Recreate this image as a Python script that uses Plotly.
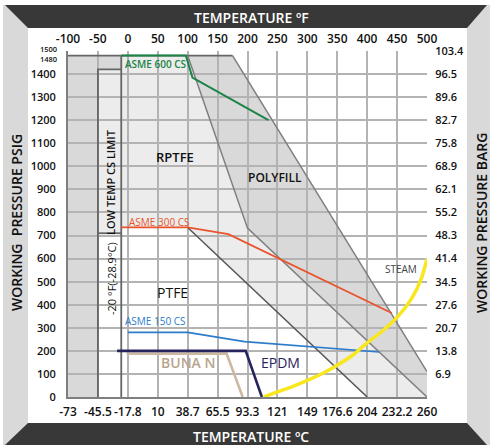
import plotly.graph_objects as go

# ---------------- data ----------------
temp_f_ticks = [-100, -50, 0, 50, 100, 150, 200, 250, 300, 350, 400, 450, 500]
temp_c_labels = ["-73", "-45.5", "-17.8", "10", "38.7", "65.5", "93.3", "121",
                 "149", "176.6", "204", "232.2", "260"]
psi_ticks = [0, 100, 200, 300, 400, 500, 600, 700, 800, 900, 1000, 1100, 1200, 1300, 1400, 1500]
psi_labels = ["0", "100", "200", "300", "400", "500", "600", "700", "800", "900",
              "1000", "1100", "1200", "1300", "1400", ""]
barg_ticks = [100, 200, 300, 400, 500, 600, 700, 800, 900, 1000, 1100, 1200, 1300, 1400, 1500]
barg_labels = ["6.9", "13.8", "20.7", "27.6", "34.5", "41.4", "48.3", "55.2", "62.1",
               "68.9", "75.8", "82.7", "89.6", "96.5", "103.4"]

# zones (temperature F, pressure psig)
polyfill_t = [-100, -100, 175, 500, 500]
polyfill_p = [0, 1480, 1480, 110, 0]
rptfe_t = [-50, -50, -11, -11, 100, 200, 500]
rptfe_p = [0, 1420, 1420, 1480, 1480, 732, 0]
ptfe_t = [-50, -50, -11, -11, 100, 400]
ptfe_p = [0, 710, 710, 735, 735, 0]
lowtemp_t = -11

# rating lines
asme600_t = [-11, 97, 108, 235]
asme600_p = [1480, 1480, 1385, 1200]
asme300_t = [-11, 100, 168, 441]
asme300_p = [735, 735, 706, 364]
asme150_t = [0, 100, 195, 420]
asme150_p = [280, 280, 240, 195]
epdm_t = [-18, 197, 224]
epdm_p = [200, 200, 0]
buna_t = [-2, 165, 192]
buna_p = [188, 188, 0]
steam_t = [227, 250, 275, 300, 325, 350, 375, 400, 425, 450, 475, 490, 500]
steam_p = [0, 22, 45, 72, 102, 138, 180, 235, 285, 345, 430, 510, 600]

# ---------------- layout helpers ----------------
W, H = 493, 445
ML, MR, MT, MB = 68, 66, 51, 48
PW, PH = W - ML - MR, H - MT - MB


def px(xp):
    return (xp - ML) / PW


def py(yp):
    return (H - MB - yp) / PH


def ppath(points):
    return "M " + " L ".join(f"{px(a):.5f},{py(b):.5f}" for a, b in points) + " Z"


def dpath(ts, ps):
    return "M " + " L ".join(f"{t},{p}" for t, p in zip(ts, ps)) + " Z"


FONT = "Open Sans"
DARK_FILL = "#d9d9d9"
LIGHT_FILL = "#ececec"
EDGE = "#7f7f7f"
GRID = "#b3b3b3"

fig = go.Figure()

shapes = []
# frame
shapes.append(dict(type="path", xref="paper", yref="paper", layer="below",
                   path=ppath([(3, 5), (490, 5), (490, 445), (3, 445)]),
                   fillcolor="#d9d9d9", line=dict(width=0)))
shapes.append(dict(type="path", xref="paper", yref="paper", layer="below",
                   path=ppath([(28, 28), (467, 28), (467, 423), (28, 423)]),
                   fillcolor="white", line=dict(width=0)))
shapes.append(dict(type="path", xref="paper", yref="paper", layer="below",
                   path=ppath([(5, 5), (487, 5), (467, 28), (28, 28)]),
                   fillcolor="#383838", line=dict(width=0)))
shapes.append(dict(type="path", xref="paper", yref="paper", layer="below",
                   path=ppath([(28, 423), (467, 423), (487, 445), (5, 445)]),
                   fillcolor="#383838", line=dict(width=0)))
# zones (below gridlines)
shapes.append(dict(type="path", xref="x", yref="y", layer="below",
                   path=dpath(polyfill_t, polyfill_p), fillcolor=DARK_FILL, line=dict(width=0)))
shapes.append(dict(type="path", xref="x", yref="y", layer="below",
                   path=dpath(rptfe_t, rptfe_p), fillcolor=LIGHT_FILL, line=dict(width=0)))
shapes.append(dict(type="path", xref="x", yref="y", layer="below",
                   path=dpath(ptfe_t, ptfe_p), fillcolor="white", line=dict(width=0)))
fig.update_layout(shapes=shapes)


def edge(ts, ps, color=EDGE, width=1.5):
    fig.add_trace(go.Scatter(x=ts, y=ps, mode="lines", line=dict(color=color, width=width),
                             hoverinfo="skip", showlegend=False))


# zone outlines
edge([-100, polyfill_t[2]], [1480, 1480], color="#666666", width=1.8)
edge(polyfill_t[2:4], polyfill_p[2:4])
edge(rptfe_t[4:], rptfe_p[4:])
edge(ptfe_t[4:], ptfe_p[4:], color="#555555")
edge([-50, -50, lowtemp_t], [0, rptfe_p[1], rptfe_p[2]], color="#666666", width=1.8)
edge([-50, lowtemp_t], [ptfe_p[1], ptfe_p[2]], color="#666666", width=1.8)
edge([lowtemp_t, lowtemp_t], [0, 1480], color="#666666", width=1.8)

# rating lines
fig.add_trace(go.Scatter(x=asme600_t, y=asme600_p, mode="lines", name="ASME 600 CS",
                         line=dict(color="#1b8447", width=2), showlegend=False))
fig.add_trace(go.Scatter(x=asme300_t, y=asme300_p, mode="lines", name="ASME 300 CS",
                         line=dict(color="#e9542c", width=1.8), showlegend=False))
fig.add_trace(go.Scatter(x=asme150_t, y=asme150_p, mode="lines", name="ASME 150 CS",
                         line=dict(color="#2c7ccb", width=1.6), showlegend=False))
fig.add_trace(go.Scatter(x=buna_t, y=buna_p, mode="lines", name="BUNA N",
                         line=dict(color="#cdb9a2", width=2.6), showlegend=False))
fig.add_trace(go.Scatter(x=epdm_t, y=epdm_p, mode="lines", name="EPDM",
                         line=dict(color="#26245e", width=2.6), showlegend=False))
fig.add_trace(go.Scatter(x=steam_t, y=steam_p, mode="lines", name="STEAM",
                         line=dict(color="#f8e71c", width=3.5, shape="spline"), showlegend=False))
# dummy trace for secondary axes
fig.add_trace(go.Scatter(x=[None], y=[None], xaxis="x2", yaxis="y2", showlegend=False))

tickfont = dict(family=FONT, size=11, color="#111111", weight=600)

fig.update_layout(
    width=W, height=H, autosize=False,
    margin=dict(l=ML, r=MR, t=MT, b=MB, pad=0),
    paper_bgcolor="white", plot_bgcolor="white",
    xaxis=dict(range=[-100, 500], side="top", tickvals=temp_f_ticks,
               ticktext=[str(v) for v in temp_f_ticks], showgrid=True, gridcolor=GRID,
               gridwidth=1.5, zeroline=False, showline=False, ticks="outside", ticklen=2,
               tickcolor="rgba(0,0,0,0)", tickfont=dict(family=FONT, size=12, color="#111111", weight=600),
               fixedrange=True),
    xaxis2=dict(range=[-100, 500], side="bottom", overlaying="x", tickvals=temp_f_ticks,
                ticktext=temp_c_labels, showgrid=False, zeroline=False, showline=True,
                linecolor=EDGE, linewidth=2,
                ticks="outside", ticklen=3, tickcolor="rgba(0,0,0,0)",
                tickfont=dict(family=FONT, size=12, color="#111111", weight=600)),
    yaxis=dict(range=[0, 1500], tickvals=psi_ticks, ticktext=psi_labels, showgrid=True,
               gridcolor=GRID, gridwidth=1.5, zeroline=False, showline=True,
               linecolor=EDGE, linewidth=2, ticks="outside",
               ticklen=8, tickcolor="rgba(0,0,0,0)", tickfont=tickfont),
    yaxis2=dict(range=[0, 1500], overlaying="y", side="right", tickvals=barg_ticks,
                ticktext=barg_labels, showgrid=False, zeroline=False, showline=False,
                ticks="outside", ticklen=5, tickcolor="rgba(0,0,0,0)", tickfont=tickfont),
)

ann = []


def label(x, y, text, size, color="#111111", weight=600, angle=0, xanchor="center"):
    ann.append(dict(x=px(x), y=py(y), xref="paper", yref="paper", text=text, showarrow=False,
                    textangle=angle, xanchor=xanchor, yanchor="middle",
                    font=dict(family=FONT, size=size, color=color, weight=weight)))


# frame texts
label(251, 17, "TEMPERATURE ºF", 14, color="white")
label(251, 436, "TEMPERATURE ºC", 14, color="white")
label(16, 223, "WORKING  PRESSURE PSIG", 14, angle=-90)
label(481, 223, "WORKING PRESSURE BARG", 14, angle=-90)
# small top tick labels
label(59, 48.5, "1500", 7.5, xanchor="right")
label(59, 58.5, "1480", 7.5, xanchor="right")
# region labels
label(175, 157, "RPTFE", 13)
label(275, 177, "POLYFILL", 12)
label(172, 292, "PTFE", 14, weight=500)
label(156, 64, "ASME 600 CS", 10, color="#1b8447")
label(159, 222, "ASME 300 CS", 10, color="#e9542c", weight=500)
label(155, 321, "ASME 150 CS", 10, color="#2c7ccb", weight=500)
label(188, 362, "BUNA N", 14, color="#b8a48e")
label(280, 362, "EPDM", 14, color="#26245e", weight=500)
label(401, 269, "STEAM", 10, color="#444444", weight=500)
label(110, 182, "LOW TEMP CS LIMIT", 11, angle=-90)
label(111, 279, "-20 °F(-28.9°C)", 11, angle=-90, weight=500)

fig.update_layout(annotations=ann)

fig.write_html("out.html", config={"displayModeBar": False},
               post_script="document.body.style.margin='0px';")
